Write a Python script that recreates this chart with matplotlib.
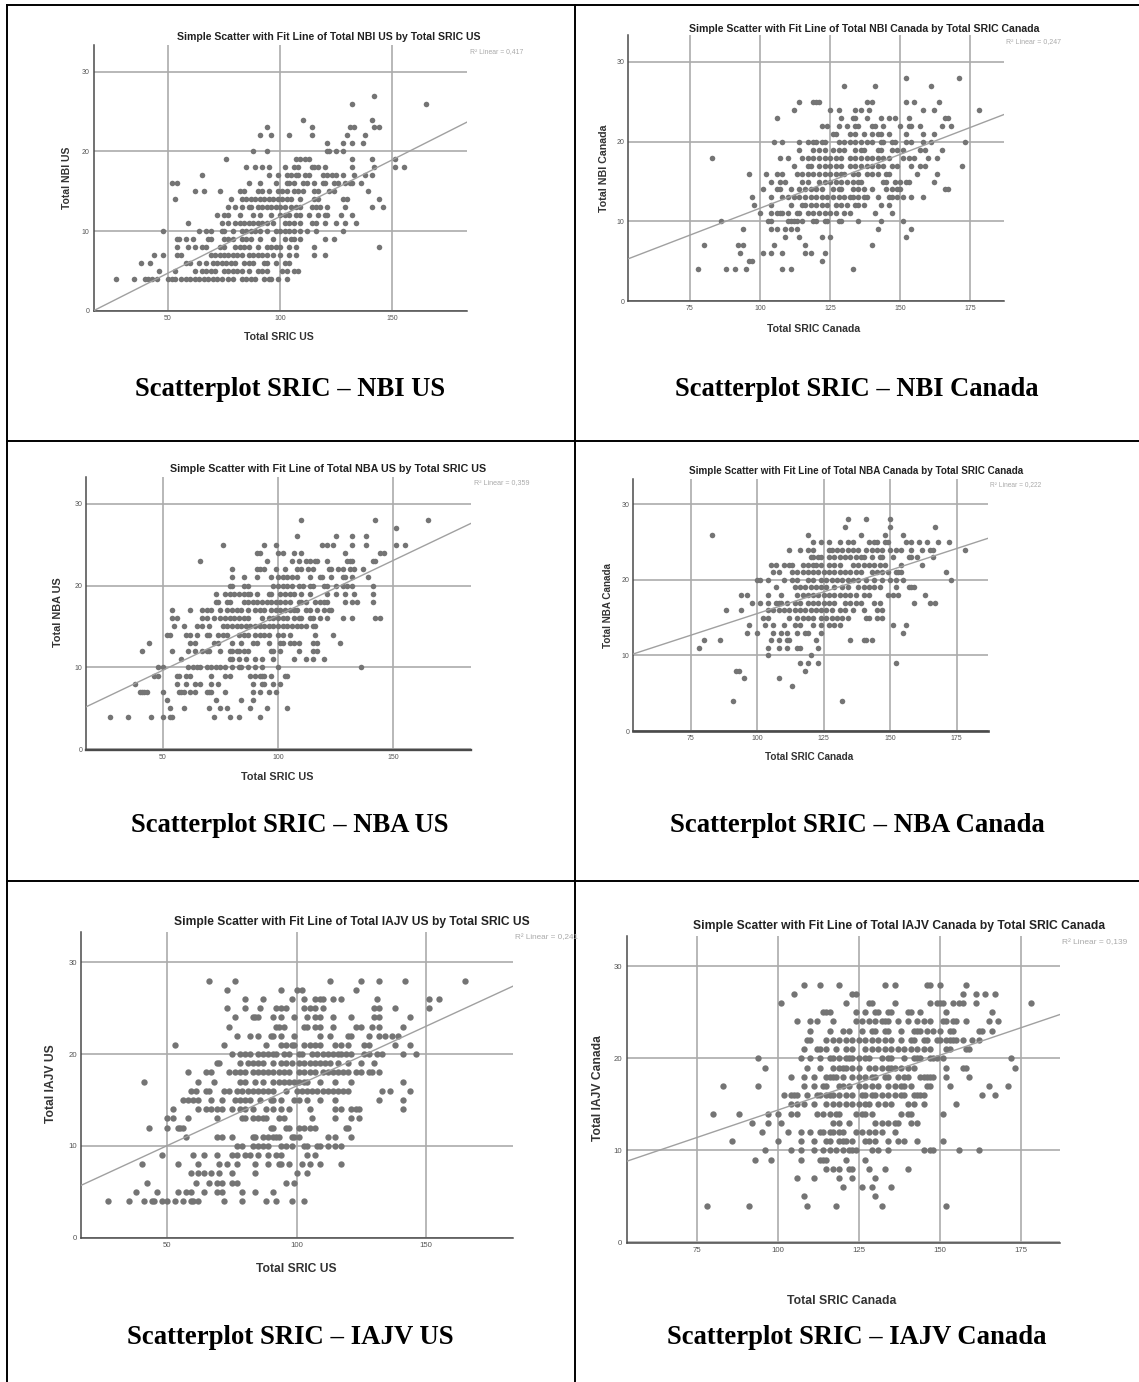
import matplotlib
matplotlib.use("Agg")
import matplotlib.pyplot as plt
from matplotlib.lines import Line2D

W, H = 1139, 1382

# ---------- data: y value -> x values ----------
nbi_us = {
27:[142],
26:[132,165],
24:[110,141],
23:[94,114,131,133,142,144],
22:[91,96,104,114,130,138],
21:[121,128,132,137],
20:[88,94,121,122,125,128],
19:[76,107,109,111,113,132,141,151],
18:[85,89,92,95,102,106,108,114,115,117,120,132,142,151,155],
17:[65,95,99,103,105,107,108,111,113,119,121,123,125,128,133,138,141],
16:[52,54,86,91,98,103,104,106,110,112,115,119,120,124,126,129,131,132,136],
15:[62,66,73,82,84,90,92,95,99,101,103,106,108,110,115,117,122,124,139],
14:[53,78,83,85,87,89,91,93,95,97,99,101,103,105,109,115,117,128,130,144],
13:[77,80,83,86,87,90,92,94,96,98,100,102,105,107,109,114,116,118,121,129,141,146],
12:[72,75,77,82,88,91,96,100,102,104,107,109,113,117,120,121,127,132],
11:[59,74,77,80,82,84,86,88,90,92,94,97,102,104,106,109,114,116,120,125,129,134],
10:[48,64,67,69,74,75,79,83,85,87,89,91,94,98,100,102,104,106,109,112,116,128],
9:[54,55,58,61,68,69,75,77,79,83,85,87,91,97,102,105,106,109,120,124],
8:[54,59,62,65,67,73,75,80,82,84,86,90,94,96,98,100,104,107,115,144],
7:[44,48,54,56,69,71,73,75,77,79,81,83,86,88,90,92,94,97,100,104,107,115,120],
6:[38,42,58,60,64,67,70,72,74,76,78,80,84,86,88,93,94,98,102,104],
5:[46,53,62,65,67,69,71,75,77,79,81,83,86,90,92,94,101,103,106,108],
4:[27,35,40,41,43,45,50,52,53,56,58,60,62,64,66,68,70,72,74,77,79,83,85,87,89,93,95,96,99,103],
}
nbi_ca = {
28:[152,171],
27:[130,141,161],
25:[114,119,120,121,138,140,152,155,164],
24:[112,125,128,134,136,139,158,162,178],
23:[106,129,133,134,138,143,146,148,153,166,167],
22:[122,124,128,131,134,135,140,141,144,150,153,154,157,165,168],
21:[126,127,132,134,137,140,142,143,146,152,158,162],
20:[105,108,114,117,119,120,122,123,128,130,132,134,136,138,140,143,144,147,148,152,154,158,161,173],
19:[114,119,121,123,126,128,130,134,136,137,142,143,147,149,151,157,159,165],
18:[83,107,110,115,117,119,121,123,125,127,129,132,134,136,138,140,142,144,146,151,153,155,160,163],
17:[112,117,118,121,123,125,127,129,132,134,136,138,140,142,144,147,149,154,157,159,172],
16:[96,102,106,108,113,115,117,119,121,123,125,127,129,130,133,135,138,140,142,145,146,156,163],
15:[104,107,109,115,117,121,123,125,127,129,131,133,135,136,144,145,148,150,152,153,162],
14:[101,106,107,111,114,116,118,120,122,126,128,129,133,135,137,140,145,147,149,150,166,167],
13:[97,104,108,110,112,114,116,118,120,122,124,126,128,130,132,133,135,137,138,142,146,147,149,151,154,158],
12:[98,104,111,115,116,118,120,122,124,127,129,131,134,135,137,143,146],
11:[100,104,106,107,108,110,113,114,117,119,121,123,125,127,130,132,141,147],
10:[86,103,104,110,111,112,113,115,119,120,123,124,128,129,135,143,151],
9:[94,104,106,109,111,113,142,154],
8:[109,114,122,125,152],
7:[80,92,94,105,116,140],
6:[93,101,104,108,116,118,123],
5:[96,97,122],
4:[78,88,91,95,108,111,133],
}
nba_us = {
28:[110,142,165],
27:[151],
26:[108,125,132,138],
25:[76,94,99,119,121,124,132,138,151,155],
24:[91,92,100,102,107,110,129,144,146],
23:[66,95,106,109,112,114,116,117,121,130,131,132,141,142],
22:[80,91,92,94,99,103,108,110,113,115,122,123,126,128,131,133,137],
21:[80,85,91,97,100,102,104,106,108,114,118,119,123,128,129,132,139],
20:[79,80,85,87,98,100,102,104,106,109,111,114,115,120,121,125,128,130,132,141],
19:[73,77,79,81,83,85,87,88,91,96,97,101,103,105,107,110,114,121,125,129,133,141],
18:[73,74,78,79,85,87,89,91,93,95,97,99,101,103,105,109,110,112,116,118,120,121,129,132,134,141],
17:[54,62,67,69,71,75,78,80,82,84,87,90,92,94,97,99,101,103,105,107,108,112,114,117,120,122,123],
16:[54,56,67,69,72,75,77,79,81,83,85,87,93,96,98,100,102,104,107,109,110,114,115,118,121,128,132,142,144],
15:[55,59,65,67,70,76,78,80,82,84,86,88,90,92,94,96,98,100,102,104,106,108,110,112,115,116],
14:[52,53,60,62,65,69,70,74,76,78,83,85,87,90,92,94,96,100,102,105,116,124],
13:[44,62,64,72,74,80,84,89,91,96,101,102,105,107,109,115,117,127],
12:[41,54,61,64,67,69,70,75,79,80,82,83,85,87,97,98,101,109,115,117],
11:[58,79,80,83,86,90,93,98,107,112,115,120],
10:[48,50,61,63,65,66,69,71,73,75,77,80,83,84,87,90,93,100,136],
9:[46,48,56,57,60,62,71,77,79,88,90,92,93,94,97,103,104],
8:[38,56,60,64,66,71,74,89,93,94,98,101],
7:[40,41,42,43,50,57,58,59,62,64,69,70,71,77,89,92,96,99],
6:[52,73,84,89],
5:[53,59,70,75,78,88,95,104],
4:[27,35,45,50,53,54,72,79,83,92],
}
nba_ca = {
28:[134,141,150],
27:[133,150,167],
26:[83,119,139,148,155],
25:[121,124,127,131,134,136,142,144,145,148,149,156,158,161,164,168,172],
24:[112,116,119,121,127,128,130,132,134,136,138,141,143,145,147,150,152,154,158,162,165,166,178],
23:[120,121,123,124,127,129,131,133,135,137,139,140,143,146,147,151,157,158,160,166],
22:[105,107,110,112,113,117,119,121,122,124,127,129,131,136,138,140,142,144,146,148,154,162],
21:[106,108,113,115,117,119,121,123,125,127,129,131,133,135,137,139,143,145,147,149,152,153,154,171],
20:[100,101,104,110,113,115,119,121,124,126,128,130,132,134,136,138,141,144,147,150,152,155,173],
19:[107,114,116,118,120,122,124,126,129,132,134,138,140,142,144,146,152,157,158,159],
18:[94,96,104,109,115,117,119,121,123,125,127,129,131,133,135,137,140,142,149,151,153,163],
17:[98,101,104,107,108,109,111,114,116,119,121,123,125,127,129,133,135,137,139,144,146,159,165,167],
16:[88,94,104,106,108,110,112,114,116,118,120,122,124,126,128,131,133,136,140,145,147],
15:[102,104,112,115,117,119,121,124,126,128,130,132,134,141,142,145,147],
14:[97,103,106,110,114,116,121,124,127,129,131,151,156],
13:[96,100,106,109,111,115,118,119,124,155],
12:[80,86,105,108,111,112,122,135,140,141,143],
11:[78,104,108,111,115,116,123],
10:[104,120],
9:[116,119,123,152],
8:[92,93,118],
7:[95,108],
6:[113],
4:[91,132],
}
iajv_us = {
28:[66,76,113,125,132,142,165],
27:[73,94,100,102,123],
26:[80,87,98,103,107,109,110,114,117,131,151,155],
25:[73,80,86,92,94,96,103,105,107,110,130,132,138,151],
24:[76,83,84,85,91,94,99,104,107,109,114,121,130,132,144],
23:[74,92,93,95,103,104,107,109,114,123,125,129,132,141],
22:[77,82,85,90,91,94,99,109,113,120,121,128,132,134,137,139],
21:[53,72,88,94,96,98,99,103,105,107,109,115,117,120,126,128,138,144],
20:[75,78,80,82,85,87,89,91,92,95,97,101,102,106,108,110,112,114,116,117,119,121,126,128,131,133,141,146],
19:[69,70,78,81,83,85,87,91,94,96,98,101,103,105,107,109,111,113,116,120,125,130],
18:[58,65,67,74,76,78,80,83,85,87,89,91,93,95,97,101,103,105,107,110,112,114,116,118,120,123,125,128,129,132],
17:[41,62,68,78,80,84,87,91,93,95,97,99,101,103,104,109,115,121,141],
16:[59,61,65,66,72,74,77,79,81,83,85,87,89,91,96,100,102,104,106,108,110,112,114,116,118,120,133,136,144],
15:[56,58,60,62,67,71,76,78,80,82,86,90,91,94,99,101,104,109,115,132,141],
14:[52,62,65,67,69,71,75,78,80,83,88,91,94,97,105,115,117,121,123,124,141],
13:[50,52,58,69,79,80,83,85,87,88,93,95,106,115,121,124],
12:[43,50,54,55,56,90,91,96,97,101,103,105,107,119,120],
11:[57,69,71,75,83,84,87,89,91,92,93,98,99,101,112,115,121],
10:[77,79,83,85,87,89,94,96,98,103,104,108,109,112,115,117],
9:[48,60,64,69,75,77,80,82,85,89,92,94,104,107],
8:[40,54,62,70,73,77,84,89,93,94,97,102,105,109,117],
7:[59,62,64,67,70,75,84,100,104],
6:[42,61,66,69,71,75,77,96,99],
5:[38,46,54,57,59,64,69,71,79,84,91],
4:[27,35,41,44,45,48,50,53,56,59,60,62,72,79,88,92,98,103],
}
iajv_ca = {
28:[108,113,119,133,136,146,147,150,158],
27:[105,123,124,157,161,164,167],
26:[101,121,128,129,136,147,149,150,151,154,156,157,161,178],
25:[114,115,116,124,127,130,131,134,135,140,141,144,152,166],
24:[106,110,112,117,124,126,128,130,132,133,134,137,140,143,145,147,151,152,154,155,158,165,168],
23:[110,116,120,122,126,129,130,133,134,138,142,143,144,146,148,150,153,154,162,163,166],
22:[109,110,115,117,119,121,123,125,127,129,131,133,135,138,141,142,145,146,149,150,152,153,154,155,157,160,162],
21:[108,112,113,115,118,121,123,127,129,131,133,135,137,139,141,143,145,147,152,153,158,159],
20:[94,107,110,113,116,117,119,121,122,123,125,127,128,132,134,135,139,142,143,144,147,148,149,151,172],
19:[96,109,113,117,119,120,121,123,125,128,130,132,134,135,136,138,140,142,152,157,158,173],
18:[104,108,111,115,116,117,118,120,123,125,127,129,130,133,134,137,139,140,144,145,146,147,148,152,159],
17:[83,94,108,111,114,115,119,120,122,125,127,129,131,134,136,138,139,141,146,147,153,165,171],
16:[102,104,105,106,109,112,113,115,116,117,119,121,123,126,127,129,130,132,134,136,138,139,142,143,144,145,163,167],
15:[104,106,108,111,115,117,119,121,123,125,127,128,131,133,135,140,142,145,155],
14:[80,88,97,100,104,106,112,114,116,118,119,124,126,127,129,138,140,141,151],
13:[92,97,101,117,119,122,130,132,134,136,137,141,143],
12:[95,103,107,110,113,114,116,117,119,120,124,126,128,130,132,136],
11:[86,100,107,111,115,116,119,120,121,123,127,128,130,134,137,139,143,151],
10:[96,104,107,111,114,116,118,120,122,123,124,129,131,134,145,147,148,156,162],
9:[93,98,107,113,114,115,121,127],
8:[115,117,119,122,123,128,133,140],
7:[106,111,119,123,130],
6:[120,126,129,135],
5:[108,130],
4:[78,91,109,118,132,152],
}

titles = [
 "Simple Scatter with Fit Line of Total NBI US by Total SRIC US",
 "Simple Scatter with Fit Line of Total NBI Canada by Total SRIC Canada",
 "Simple Scatter with Fit Line of Total NBA US by Total SRIC US",
 "Simple Scatter with Fit Line of Total NBA Canada by Total SRIC Canada",
 "Simple Scatter with Fit Line of Total IAJV US by Total SRIC US",
 "Simple Scatter with Fit Line of Total IAJV Canada by Total SRIC Canada",
]
xlabels = ["Total SRIC US","Total SRIC Canada"]*3
ylabels = ["Total NBI US","Total NBI Canada","Total NBA US","Total NBA Canada","Total IAJV US","Total IAJV Canada"]
r2_labels = ["R² Linear = 0,417","R² Linear = 0,247","R² Linear = 0,359","R² Linear = 0,222","R² Linear = 0,241","R² Linear = 0,139"]
captions = ["Scatterplot SRIC – NBI US","Scatterplot SRIC – NBI Canada","Scatterplot SRIC – NBA US",
            "Scatterplot SRIC – NBA Canada","Scatterplot SRIC – IAJV US","Scatterplot SRIC – IAJV Canada"]
fit_left  = [0.0, 5.3, 5.2, 10.2, 5.7, 8.8]
fit_right = [23.7, 23.4, 27.6, 25.5, 27.4, 24.75]
us_ticks = [50,100,150]
ca_ticks = [75,100,125,150,175]
y_ticks = [0,10,20,30]
datasets = [nbi_us, nbi_ca, nba_us, nba_ca, iajv_us, iajv_ca]

# ---------- layout in pixels ----------
# left, right, top, bottom, first x tick px, last x tick px, y30 px, y0 px
geom = [
 (93.6, 467.4, 45, 311, 167.9, 392.3, 71.7, 310.7),
 (628.3,1003.8, 35, 301, 690.0, 970.3, 62.0, 301.0),
 (86.3, 471.0, 477, 749.5, 162.8, 393.4, 503.7, 749.3),
 (633.4,988.0, 478.7,731, 691.0, 956.6, 504.3, 731.0),
 (81.0, 513.0, 932, 1238, 167.4, 426.0, 962.3, 1237.7),
 (626.5,1059.7,935.7,1242.5,696.8,1021.0, 966.3, 1242.3),
]
title_pos = [(329,37.5,302),(864,28.5,350),(328,468.5,314),(856,471.5,333),(352,922.5,354),(899,926.5,408)]
xlab_pos = [(279,337.5,70),(814,328.5,93),(277,776.5,72),(809,756.5,88),(296,1268.5,80),(842,1301.5,108)]
ylab_pos = [(67,178,62),(604,168,87),(58,612,69),(608,605,85),(51,1084,78),(598,1088,105)]
r2_pos = [(470,52,53),(1006,42,55),(474,483,55),(990,485,52),(515,938,63),(1062,943,65)]
cap_pos = [(290,389,311),(857,389,365),(290,825,319),(857,825,375),(290,1337,326),(857,1337,380)]
tick_fs = [5.0,5.0,5.0,5.0,5.6,5.6]
msize = [16,16,16,16,21,21]
bottom_lw = [1.1,1.1,1.7,1.9,1.1,1.1]

GRID = "#ababab"; DOT = "#747474"; AX = "#4a4a4a"
SANS = "Liberation Sans"; SERIF = "Liberation Serif"

fig = plt.figure(figsize=(W/100, H/100), dpi=100, facecolor="white")
renderer = fig.canvas.get_renderer()

def fitted(x, y, s, target, rotation=0, **kw):
    t = fig.text(x/W, 1-y/H, s, ha="center", va="center", rotation=rotation, fontsize=10, **kw)
    bb = t.get_window_extent(renderer)
    size = bb.height if rotation else bb.width
    t.set_fontsize(10*target/size)
    return t

for i, (data, g) in enumerate(zip(datasets, geom)):
    l, r, top, bot, xa, xb, y30, y0 = g
    ax = fig.add_axes([l/W, 1-bot/H, (r-l)/W, (bot-top)/H])
    ticks = us_ticks if i % 2 == 0 else ca_ticks
    u = (ticks[-1]-ticks[0])/(xb-xa)
    x0 = ticks[0]+(l-xa)*u; x1 = ticks[0]+(r-xa)*u
    v = 30/(y0-y30)
    ax.set_xlim(x0, x1)
    ax.set_ylim((y0-bot)*v, (y0-top)*v)
    ax.set_xticks(ticks); ax.set_yticks(y_ticks)
    ax.grid(True, color=GRID, lw=1.2, zorder=1)
    ax.set_axisbelow(True)
    for s in ("top","right"):
        ax.spines[s].set_visible(False)
    ax.spines["left"].set_color(AX); ax.spines["left"].set_linewidth(1.1)
    ax.spines["bottom"].set_color(AX); ax.spines["bottom"].set_linewidth(bottom_lw[i])
    ax.tick_params(length=0, labelsize=tick_fs[i], labelcolor="#555555", pad=3)
    for lab in ax.get_xticklabels()+ax.get_yticklabels():
        lab.set_fontfamily(SANS)
    xs = [xv for yv, row in data.items() for xv in row]
    ys = [yv for yv, row in data.items() for _ in row]
    ax.scatter(xs, ys, s=msize[i], color=DOT, linewidths=0, zorder=3, clip_on=False)
    ax.plot([x0, x1], [fit_left[i], fit_right[i]], color="#a0a0a0", lw=1.0, zorder=4)

    fitted(*title_pos[i][:2], titles[i], title_pos[i][2], family=SANS, weight="bold", color="#222222")
    fitted(*xlab_pos[i][:2], xlabels[i], xlab_pos[i][2], family=SANS, weight="bold", color="#333333")
    fitted(*ylab_pos[i][:2], ylabels[i], ylab_pos[i][2], rotation=90, family=SANS, weight="bold", color="#333333")
    fitted(r2_pos[i][0]+r2_pos[i][2]/2, r2_pos[i][1], r2_labels[i], r2_pos[i][2], family=SANS, color="#aaaaaa")
    fitted(*cap_pos[i][:2], captions[i], cap_pos[i][2], family=SERIF, weight="bold", color="black")

# table frame
def frame(x1, y1, x2, y2):
    fig.add_artist(Line2D([x1/W, x2/W], [1-y1/H, 1-y2/H], color="black", lw=1.4, solid_capstyle="butt"))
for yy in (5, 441, 881):
    frame(6, yy, W, yy)
frame(7, 4, 7, H)
frame(574.5, 4, 574.5, H)

fig.savefig("out.png", dpi=100)
